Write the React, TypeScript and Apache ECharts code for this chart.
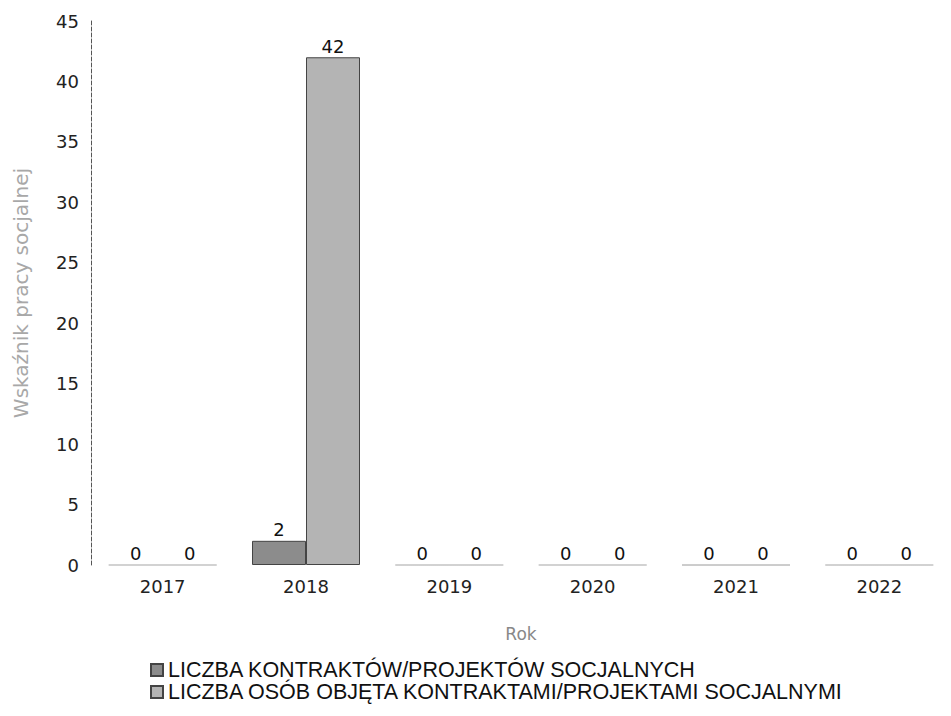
import React, { useEffect, useRef } from "react";
import * as echarts from "echarts";

const years = ["2017", "2018", "2019", "2020", "2021", "2022"];
const contracts = [0, 2, 0, 0, 0, 0];
const persons = [0, 42, 0, 0, 0, 0];
const seriesNames = [
  "LICZBA KONTRAKTÓW/PROJEKTÓW SOCJALNYCH",
  "LICZBA OSÓB OBJĘTA KONTRAKTAMI/PROJEKTAMI SOCJALNYMI",
];

const toData = (arr: number[]) =>
  arr.map((v) =>
    v === 0
      ? { value: v, itemStyle: { borderColor: "#9a9a9a", borderType: "dotted", borderWidth: 1 } }
      : { value: v }
  );

export default function App() {
  const ref = useRef<HTMLDivElement>(null);
  useEffect(() => {
    if (!ref.current) return;
    const chart = echarts.init(ref.current, null, { renderer: "svg" });
    const labelStyle = {
      show: true,
      position: "top" as const,
      color: "#111",
      fontFamily: "DejaVu Sans",
      fontSize: 18,
      distance: 2,
    };
    chart.setOption({
      animation: false,
      backgroundColor: "#ffffff",
      grid: { left: 91, top: 21, width: 867, height: 544, containLabel: false },
      legend: {
        orient: "vertical",
        left: 145,
        top: 654,
        itemWidth: 12,
        itemHeight: 12,
        itemGap: 0,
        icon: "rect",
        textStyle: { fontFamily: "Liberation Sans", fontSize: 21.5, color: "#111" },
        data: seriesNames,
      },
      xAxis: {
        type: "category",
        data: years,
        name: "Rok",
        nameLocation: "middle",
        nameGap: 60,
        nameTextStyle: { fontFamily: "DejaVu Sans", fontSize: 17, color: "#888" },
        axisLine: { show: false },
        axisTick: { show: false },
        axisLabel: { fontFamily: "DejaVu Sans", fontSize: 18, color: "#222", margin: 12 },
      },
      yAxis: {
        type: "value",
        min: 0,
        max: 45,
        interval: 5,
        name: "Wskaźnik pracy socjalnej",
        nameLocation: "middle",
        nameGap: 60,
        nameTextStyle: { fontFamily: "DejaVu Sans", fontSize: 20, color: "#a8a8a8" },
        axisLine: { show: true, lineStyle: { color: "#555", type: "dashed", width: 1 } },
        axisTick: { show: false },
        splitLine: { show: false },
        axisLabel: { fontFamily: "DejaVu Sans", fontSize: 18, color: "#222", margin: 12 },
      },
      series: [
        {
          name: seriesNames[0],
          type: "bar",
          data: toData(contracts),
          barWidth: 54,
          barGap: "0%",
          itemStyle: { color: "#8c8c8c", borderColor: "#444", borderWidth: 1 },
          label: labelStyle,
        },
        {
          name: seriesNames[1],
          type: "bar",
          data: toData(persons),
          barWidth: 54,
          barGap: "0%",
          itemStyle: { color: "#b4b4b4", borderColor: "#444", borderWidth: 1 },
          label: labelStyle,
        },
      ],
    });
    return () => chart.dispose();
  }, []);
  return (
    <div
      ref={ref}
      style={{ position: "absolute", left: 0, top: 0, width: 951, height: 716 }}
    />
  );
}
